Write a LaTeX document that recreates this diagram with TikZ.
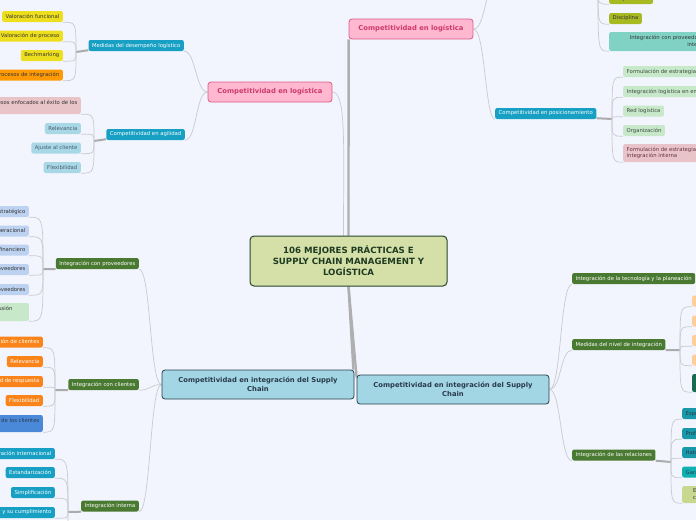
\documentclass[tikz,border=0pt]{standalone}
\usepackage{fontspec}
\setmainfont{DejaVu Sans}
\usetikzlibrary{backgrounds}

\definecolor{paper}{HTML}{F2F5FD}
\definecolor{twigC}{HTML}{C9CACF}
\definecolor{stubC}{HTML}{ABABAE}
\definecolor{trunkC}{HTML}{AFAFB2}
\definecolor{hubFill}{HTML}{D5E0A9}
\definecolor{hubLine}{HTML}{27452A}
\definecolor{hubInk}{HTML}{1E3A20}
\definecolor{pinkFill}{HTML}{FFB8CF}
\definecolor{pinkLine}{HTML}{DE5A8A}
\definecolor{pinkInk}{HTML}{CC3A6E}
\definecolor{scFill}{HTML}{A2D6E4}
\definecolor{scLine}{HTML}{2A3F50}
\definecolor{scInk}{HTML}{2A3A4A}
\definecolor{tealC}{HTML}{17A0C3}
\definecolor{greenC}{HTML}{4A7A32}
\definecolor{yellowC}{HTML}{EEDF1E}
\definecolor{amberC}{HTML}{FF9A05}
\definecolor{orangeC}{HTML}{FA8419}
\definecolor{roseC}{HTML}{E8C4C9}
\definecolor{skyC}{HTML}{A8D8E6}
\definecolor{lilacC}{HTML}{BCD2F0}
\definecolor{mintC}{HTML}{C8E8CA}
\definecolor{blueC}{HTML}{4A88D8}
\definecolor{oliveC}{HTML}{A8BA22}
\definecolor{aquaC}{HTML}{80D2C4}
\definecolor{peachC}{HTML}{FFCC9C}
\definecolor{pineC}{HTML}{1A6A50}
\definecolor{petrolC}{HTML}{1898A8}
\definecolor{cyanC}{HTML}{10B0B0}
\definecolor{sageC}{HTML}{C8D890}
\definecolor{inkC}{HTML}{333333}
\definecolor{slateC}{HTML}{4A5A6A}
\definecolor{mossInk}{HTML}{3C4A3C}
\definecolor{plumInk}{HTML}{6A3040}

\newcommand{\leaffont}{\fontsize{5.3pt}{6.4pt}\selectfont}
\newcommand{\topicfont}{\fontsize{6.8pt}{8.6pt}\selectfont\bfseries}
\newcommand{\hubfont}{\fontsize{8.6pt}{11pt}\selectfont\bfseries}

\tikzset{
  leaf/.style={fill=#1, rounded corners=2pt, minimum height=11pt, inner xsep=3.5pt, inner ysep=1pt, font=\leaffont, text=inkC},
  tall/.style={minimum height=17pt, align=left},
  limb/.style={leaf=#1, text=white},
  topic/.style={draw=#1, line width=0.8pt, rounded corners=3pt, font=\topicfont, align=center},
  hub/.style={draw=hubLine, fill=hubFill, text=hubInk, line width=1pt, rounded corners=4pt, font=\hubfont, align=center, minimum width=197pt, minimum height=50pt},
  twig/.style={draw=twigC, line width=0.7pt},
  stub/.style={draw=stubC, line width=2pt},
  trunk/.style={draw=trunkC, line width=2.4pt}
}

\begin{document}
\begin{tikzpicture}[x=1pt,y=-1pt]
\useasboundingbox (0,0) rectangle (696,520);

% centre and main topics
\node[hub] (core) at (348.5,261) {106 MEJORES PRÁCTICAS E\\SUPPLY CHAIN MANAGEMENT Y\\LOGÍSTICA};
\node[topic=pinkLine, fill=pinkFill, text=pinkInk, minimum width=124pt, minimum height=20pt] (logR) at (411,29) {Competitividad en logística};
\node[topic=pinkLine, fill=pinkFill, text=pinkInk, minimum width=124pt, minimum height=20pt] (logL) at (270,92) {Competitividad en logística};
\node[topic=scLine, fill=scFill, text=scInk, minimum width=192pt, minimum height=29pt] (scL) at (258,384.5) {Competitividad en integración del Supply\\Chain};
\node[topic=scLine, fill=scFill, text=scInk, minimum width=192pt, minimum height=29pt] (scR) at (453,389.5) {Competitividad en integración del Supply\\Chain};

% second level
\node[limb=tealC, anchor=west] (posic) at (495,113.5) {Competitividad en posicionamiento};
\node[limb=tealC, anchor=east] (desemp) at (184,45.5) {Medidas del desempeño logístico};
\node[limb=tealC, anchor=east] (agil) at (185,134.5) {Competitividad en agilidad};
\node[limb=greenC, anchor=east] (iprov) at (139,263.5) {Integración con proveedores};
\node[limb=greenC, anchor=east] (icli) at (139,384.5) {Integración con clientes};
\node[limb=greenC, anchor=east] (iint) at (139,506) {Integración interna};
\node[limb=greenC, anchor=west] (itec) at (572,278.5) {Integración de la tecnología y la planeación};
\node[limb=greenC, anchor=west] (inivel) at (572,344.5) {Medidas del nivel de integración};
\node[limb=greenC, anchor=west] (irel) at (572,455) {Integración de las relaciones};

% leaves, top right
\node[leaf=oliveC, anchor=west] (t1) at (609,-1.5) {Simplificación};
\node[leaf=oliveC, anchor=west] (t2) at (609,18.5) {Disciplina};
\node[leaf=aquaC, tall, align=right, text width=104pt, inner xsep=4pt, minimum height=19pt, anchor=west] (t3) at (609,41.5) {Integración con proveedores y la\\integración};
\node[leaf=mintC, text=mossInk, anchor=west] (q1) at (623,71.5) {Formulación de estrategias logísticas};
\node[leaf=mintC, text=mossInk, anchor=west] (q2) at (623,91.5) {Integración logística en empresas};
\node[leaf=mintC, text=mossInk, anchor=west] (q3) at (623,111) {Red logística};
\node[leaf=mintC, text=mossInk, anchor=west] (q4) at (623,130.5) {Organización};
\node[leaf=roseC, text=plumInk, tall, minimum height=18pt, anchor=west] (q5) at (623,153) {Formulación de estrategias de\\integración interna};

% leaves, top left
\node[leaf=yellowC, anchor=east] (vfun) at (63,16.5) {Valoración funcional};
\node[leaf=yellowC, anchor=east] (vproc) at (63,36) {Valoración de proceso};
\node[leaf=yellowC, anchor=east] (bech) at (63,55.5) {Bechmarking};
\node[leaf=amberC, anchor=east] (pinteg) at (63,75) {Procesos de integración};
\node[leaf=roseC, tall, anchor=east] (enfoc) at (81,105.5) {Desarrollo de procesos enfocados al éxito de los\\clientes};
\node[leaf=skyC, text=slateC, anchor=east] (relev) at (81,128.5) {Relevancia};
\node[leaf=skyC, text=slateC, anchor=east] (ajuste) at (81,148) {Ajuste al cliente};
\node[leaf=skyC, text=slateC, anchor=east] (flexA) at (81,167.5) {Flexibilidad};

% leaves, bottom left
\node[leaf=lilacC, anchor=east] (pe1) at (29,211.5) {Nivel estratégico};
\node[leaf=lilacC, anchor=east] (pe2) at (29,231) {Nivel operacional};
\node[leaf=lilacC, anchor=east] (pe3) at (29,250) {Nivel financiero};
\node[leaf=lilacC, anchor=east] (pe4) at (29,269.5) {Desarrollo de proveedores};
\node[leaf=lilacC, anchor=east] (pe5) at (29,289.5) {Selección de proveedores};
\node[leaf=mintC, tall, text width=66pt, minimum height=18pt, anchor=east] (pe6) at (29,312) {Adquisición o fusión\\estratégica};
\node[limb=orangeC, anchor=east] (c1) at (43,342) {Segmentación de clientes};
\node[limb=orangeC, anchor=east] (c2) at (43,361.5) {Relevancia};
\node[limb=orangeC, anchor=east] (c3) at (43,381.5) {Capacidad de respuesta};
\node[limb=orangeC, anchor=east] (c4) at (43,400.5) {Flexibilidad};
\node[leaf=blueC, text=scInk, tall, anchor=east] (c5) at (43,423.5) {Conocimiento de los clientes\\finales};
\node[limb=tealC, anchor=east] (n1) at (55,453.5) {Integración internacional};
\node[limb=tealC, anchor=east] (n2) at (55,472.5) {Estandarización};
\node[limb=tealC, anchor=east] (n3) at (55,492.5) {Simplificación};
\node[limb=tealC, anchor=east] (n4) at (55,512.5) {Disciplina y su cumplimiento};

% leaves, bottom right
\node[leaf=peachC, minimum width=40pt, anchor=west] (m1) at (692,301) {};
\node[leaf=peachC, minimum width=40pt, anchor=west] (m2) at (692,321) {};
\node[leaf=peachC, minimum width=40pt, anchor=west] (m3) at (692,340.5) {};
\node[leaf=peachC, minimum width=40pt, anchor=west] (m4) at (692,360) {};
\node[leaf=pineC, minimum width=40pt, minimum height=18pt, anchor=west] (m5) at (692,383) {};
\node[leaf=petrolC, text=scInk, anchor=west] (r1) at (682,413.5) {Especialización};
\node[leaf=petrolC, text=scInk, anchor=west] (r2) at (682,433.5) {Profesionalismo};
\node[leaf=petrolC, text=scInk, anchor=west] (r3) at (682,452.5) {Habilidades};
\node[leaf=cyanC, text=scInk, anchor=west] (r4) at (682,472) {Garantías};
\node[leaf=sageC, tall, inner xsep=11pt, anchor=west] (r5) at (682,494.5) {Evaluación\\conjunta};

% fan points
\coordinate (topHid) at (495,-15);
\coordinate (fHid) at (598,-12);
\coordinate (fPos) at (612,119);
\coordinate (fDes) at (76,52);
\coordinate (fAgi) at (94,141);
\coordinate (fPro) at (43,269);
\coordinate (fCli) at (55,390);
\coordinate (fInt) at (68,512);
\coordinate (intMore) at (55,532);
\coordinate (fNiv) at (680,350);
\coordinate (fRel) at (671,462);

\begin{scope}[on background layer]
\fill[paper] (0,0) rectangle (696,520);

\draw[trunk] (core.north) -- (logR.south west);
\draw[trunk] (core.south) -- ([xshift=-1pt]scL.north east);
\draw[trunk] (core.south) -- ([yshift=-3pt]scR.north west);
\draw[twig] (logL.east) .. controls +(14,0) and +(0,-90) .. ([xshift=-5pt]core.north);

\draw[twig] (logR.east) .. controls +(12,0) and +(-10,0) .. (posic.south west);
\draw[twig] (logR.east) .. controls +(12,0) and +(-10,0) .. (topHid);
\draw[twig] (logL.west) .. controls +(-12,0) and +(12,0) .. (desemp.south east);
\draw[twig] (logL.west) .. controls +(-12,0) and +(12,0) .. (agil.south east);
\draw[twig] (scL.west) .. controls +(-12,0) and +(12,0) .. (iprov.south east);
\draw[twig] (scL.west) .. controls +(-12,0) and +(12,0) .. (icli.south east);
\draw[twig] (scL.west) .. controls +(-12,0) and +(12,0) .. (iint.south east);
\draw[twig] (scR.east) .. controls +(12,0) and +(-12,0) .. (itec.south west);
\draw[twig] (scR.east) .. controls +(12,0) and +(-12,0) .. (inivel.south west);
\draw[twig] (scR.east) .. controls +(12,0) and +(-12,0) .. (irel.south west);

\draw[stub] ([yshift=1pt]posic.south east) -- (fPos);
\draw[stub] ([yshift=1pt]desemp.south west) -- (fDes);
\draw[stub] ([yshift=1pt]agil.south west) -- (fAgi);
\draw[stub] (iprov.south west) -- (fPro);
\draw[stub] (icli.south west) -- (fCli);
\draw[stub] (iint.south west) -- (fInt);
\draw[stub] (inivel.south east) -- (fNiv);
\draw[stub] (irel.south east) -- (fRel);

\foreach \leafname in {t1,t2,t3}
  \draw[twig] (fHid) .. controls (fHid |- \leafname.south west) .. (\leafname.south west);
\foreach \leafname in {q1,q2,q3,q4,q5}
  \draw[twig] (fPos) .. controls (fPos |- \leafname.south west) .. (\leafname.south west);
\foreach \leafname in {vfun,vproc,bech,pinteg}
  \draw[twig] (fDes) .. controls (fDes |- \leafname.south east) .. (\leafname.south east);
\foreach \leafname in {enfoc,relev,ajuste,flexA}
  \draw[twig] (fAgi) .. controls (fAgi |- \leafname.south east) .. (\leafname.south east);
\foreach \leafname in {pe1,pe2,pe3,pe4,pe5,pe6}
  \draw[twig] (fPro) .. controls (fPro |- \leafname.south east) .. (\leafname.south east);
\foreach \leafname in {c1,c2,c3,c4,c5}
  \draw[twig] (fCli) .. controls (fCli |- \leafname.south east) .. (\leafname.south east);
\foreach \leafname in {n1,n2,n3,n4}
  \draw[twig] (fInt) .. controls (fInt |- \leafname.south east) .. (\leafname.south east);
\draw[twig] (fInt) .. controls (fInt |- intMore) .. (intMore);
\foreach \leafname in {m1,m2,m3,m4,m5}
  \draw[twig] (fNiv) .. controls (fNiv |- \leafname.south west) .. (\leafname.south west);
\foreach \leafname in {r1,r2,r3,r4,r5}
  \draw[twig] (fRel) .. controls (fRel |- \leafname.south west) .. (\leafname.south west);
\end{scope}

\end{tikzpicture}
\end{document}
